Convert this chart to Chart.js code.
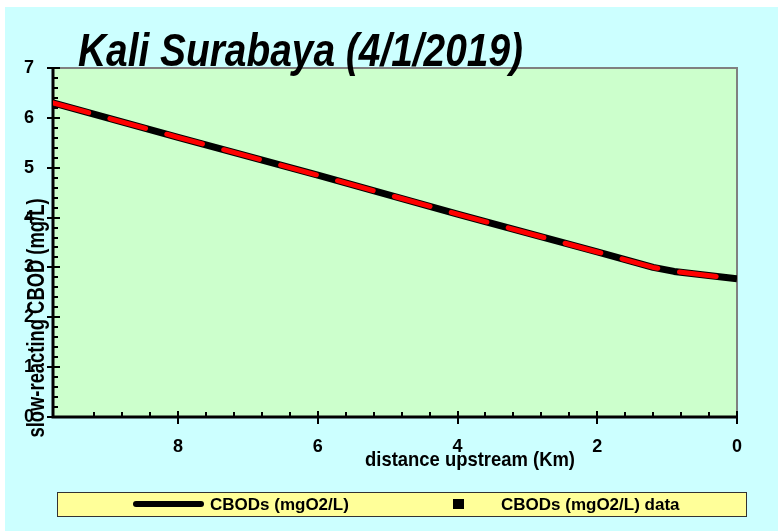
<!DOCTYPE html>
<html><head><meta charset="utf-8">
<script src="https://cdn.jsdelivr.net/npm/chart.js@4/dist/chart.umd.min.js"></script>
<style>html,body{margin:0;padding:0;background:#fff;overflow:hidden}canvas{display:block}</style>
</head><body><canvas id="c" width="778" height="531"></canvas>
<script>
// ---- data ----
const chartTitle = 'Kali Surabaya (4/1/2019)';
const xAxisTitle = 'distance upstream (Km)';
const yAxisTitle = 'slow-reacting CBOD (mg/L)';
const seriesLabels = ['CBODs (mgO2/L)', 'CBODs (mgO2/L) data', 'slow-reacting CBOD (mg/L)'];
const distanceKm = [9.79, 8, 6, 4, 2, 1.2, 0.9, 0];
const cbodModel = [6.30, 5.61, 4.85, 4.07, 3.31, 3.00, 2.92, 2.77];
const cbodSlowModel = [6.30, 5.61, 4.85, 4.07, 3.31, 3.00, 2.92, 2.77];
const cbodDataKm = [];
const cbodDataValues = [];
const xMin = 0, xMax = 9.79, xStep = 0.4;
const yMin = 0, yMax = 7, yStep = 0.2;

const FONT = '"Liberation Sans", Arial, sans-serif';
const toPts = (xs, ys) => xs.map((x, i) => ({x: x, y: ys[i]}));
const near = (v, s) => Math.abs(v / s - Math.round(v / s)) < 1e-6;

function drawScaledText(ctx, text, font, x, y, targetW, align) {
  ctx.save();
  ctx.font = font;
  const w = ctx.measureText(text).width;
  const sx = targetW / w;
  ctx.translate(x, y);
  ctx.scale(sx, 1);
  ctx.textAlign = align || 'left';
  ctx.fillText(text, 0, 0);
  ctx.restore();
}

const decor = {
  id: 'decor',
  beforeDraw(chart) {
    const c = chart.ctx, a = chart.chartArea;
    c.save();
    c.fillStyle = '#ffffff'; c.fillRect(0, 0, chart.width, chart.height);
    c.fillStyle = '#ccffff'; c.fillRect(5, 7, chart.width - 5, chart.height - 7);
    c.fillStyle = '#ccffcc'; c.fillRect(a.left, a.top, a.right - a.left, a.bottom - a.top);
    c.restore();
  },
  beforeDatasetsDraw(chart) {
    const c = chart.ctx, a = chart.chartArea;
    const xs = chart.scales.x, ys = chart.scales.y;
    c.save();
    c.strokeStyle = '#808080'; c.lineWidth = 2;
    c.beginPath(); c.moveTo(a.left, a.top); c.lineTo(a.right, a.top); c.lineTo(a.right, a.bottom); c.stroke();
    c.strokeStyle = '#000'; c.lineWidth = 3;
    c.beginPath(); c.moveTo(a.left, a.top); c.lineTo(a.left, a.bottom); c.lineTo(a.right, a.bottom); c.stroke();
    c.lineWidth = 2;
    xs.ticks.forEach(t => {
      if (!near(t.value, xStep)) return;
      const px = Math.round(xs.getPixelForValue(t.value));
      const major = near(t.value, 2);
      c.beginPath();
      if (major) { c.moveTo(px, a.bottom - 6); c.lineTo(px, a.bottom + 7); }
      else { c.moveTo(px, a.bottom - 5); c.lineTo(px, a.bottom); }
      c.stroke();
    });
    ys.ticks.forEach(t => {
      if (!near(t.value, yStep)) return;
      const py = Math.round(ys.getPixelForValue(t.value));
      const major = near(t.value, 1);
      c.beginPath();
      if (major) { c.moveTo(a.left - 6, py); c.lineTo(a.left + 7, py); }
      else { c.moveTo(a.left, py); c.lineTo(a.left + 5, py); }
      c.stroke();
    });
    c.restore();
  },
  afterDraw(chart) {
    const c = chart.ctx;
    c.save();
    c.fillStyle = '#000';
    c.textBaseline = 'alphabetic';
    drawScaledText(c, chartTitle, 'italic bold 46px ' + FONT, 78, 66, 445, 'left');
    drawScaledText(c, xAxisTitle, 'bold 21px ' + FONT, 365, 466, 210, 'left');
    c.save();
    c.translate(44, 318);
    c.rotate(-Math.PI / 2);
    drawScaledText(c, yAxisTitle, 'bold 23px ' + FONT, 0, 0, 239, 'center');
    c.restore();
    // legend
    c.fillStyle = '#ffff99';
    c.fillRect(57, 492, 689, 24);
    c.strokeStyle = '#333'; c.lineWidth = 1;
    c.strokeRect(57.5, 492.5, 689, 24);
    const ds = chart.data.datasets;
    c.strokeStyle = ds[0].borderColor; c.lineWidth = 6; c.lineCap = 'round';
    c.beginPath(); c.moveTo(136, 504); c.lineTo(201, 504); c.stroke();
    c.fillStyle = ds[1].backgroundColor;
    c.fillRect(453, 499, 11, 10);
    c.fillStyle = '#000';
    c.font = 'bold 17px ' + FONT;
    c.textBaseline = 'middle';
    c.textAlign = 'left';
    c.fillText(ds[0].label, 210, 505);
    c.fillText(ds[1].label, 501, 505);
    c.restore();
  }
};

new Chart(document.getElementById('c'), {
  type: 'scatter',
  data: {
    datasets: [
      { label: seriesLabels[0], data: toPts(distanceKm, cbodModel), showLine: true,
        borderColor: '#000000', backgroundColor: '#000000', borderWidth: 7,
        borderJoinStyle: 'round', pointRadius: 0, tension: 0, order: 2 },
      { label: seriesLabels[1], data: toPts(cbodDataKm, cbodDataValues), showLine: false,
        pointStyle: 'rect', pointRadius: 5, backgroundColor: '#000000', borderColor: '#000000', order: 1 },
      { label: seriesLabels[2], data: toPts(distanceKm, cbodSlowModel), showLine: true,
        borderColor: '#ff0000', backgroundColor: '#ff0000', borderWidth: 5,
        borderDash: [37, 22], borderCapStyle: 'round', borderJoinStyle: 'round',
        pointRadius: 0, tension: 0, order: 0 }
    ]
  },
  options: {
    responsive: false, animation: false, events: [],
    layout: { padding: { left: 13, right: 41, top: 68, bottom: 74 } },
    plugins: { legend: { display: false }, title: { display: false }, tooltip: { enabled: false } },
    scales: {
      x: {
        type: 'linear', reverse: true, min: xMin, max: xMax,
        afterFit: s => { s.height = 40; },
        border: { display: false },
        grid: { display: false, drawTicks: false, tickLength: 0 },
        ticks: {
          stepSize: xStep, autoSkip: false, maxRotation: 0, minRotation: 0,
          padding: 19, color: '#000', font: { family: FONT, size: 18, weight: 'bold' },
          callback: v => (near(v, 2) && v < xMax - 0.05) ? String(Math.round(v)) : ''
        }
      },
      y: {
        type: 'linear', min: yMin, max: yMax,
        afterFit: s => { s.width = 40; },
        border: { display: false },
        grid: { display: false, drawTicks: false, tickLength: 0 },
        ticks: {
          stepSize: yStep, autoSkip: false,
          padding: 19, color: '#000', font: { family: FONT, size: 18, weight: 'bold' },
          callback: v => near(v, 1) ? String(Math.round(v)) : ''
        }
      }
    }
  },
  plugins: [decor]
});
</script>
</body></html>
